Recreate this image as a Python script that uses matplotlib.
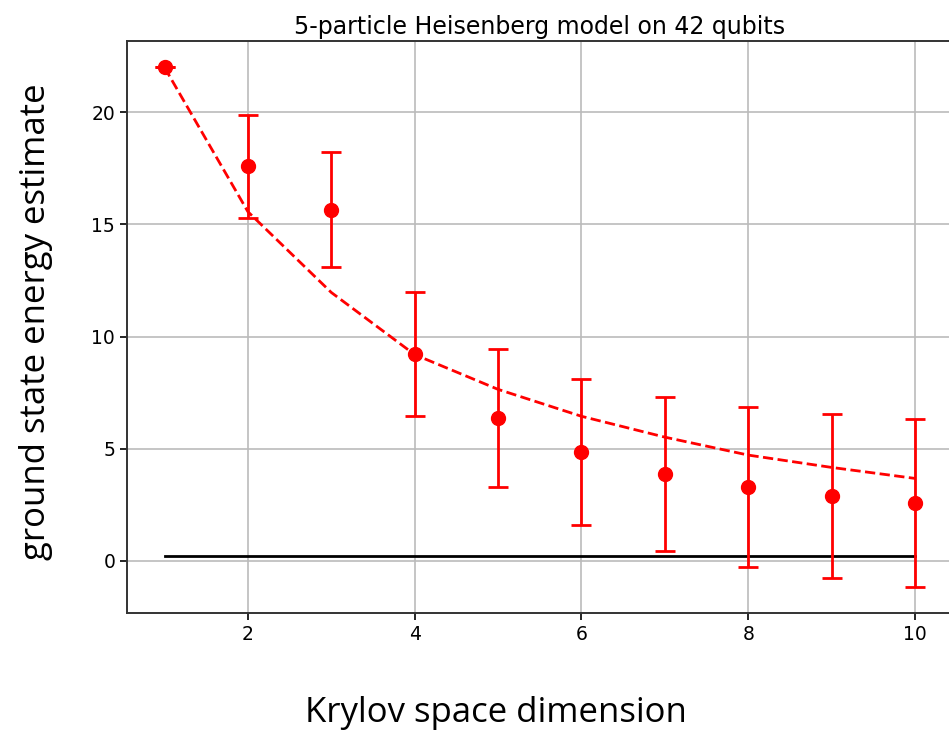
import matplotlib
matplotlib.use("Agg")
import matplotlib.pyplot as plt

x = [1, 2, 3, 4, 5, 6, 7, 8, 9, 10]
estimates = [22.0, 17.6, 15.66, 9.21, 6.36, 4.85, 3.87, 3.28, 2.89, 2.59]
errors = [0.0, 2.3, 2.56, 2.76, 3.07, 3.25, 3.44, 3.57, 3.67, 3.74]
ideal = [22.0, 15.57, 11.97, 9.2, 7.65, 6.45, 5.52, 4.72, 4.17, 3.68]
exact_energy = 0.21

fig = plt.figure(figsize=(9.49, 7.34), dpi=100)
ax = fig.add_axes([127/949, 1-613/734, (970-127)/949, (613-41)/734])

ax.errorbar(x, estimates, yerr=errors, fmt='o', color='red', markersize=10,
            elinewidth=2, capsize=7, capthick=2, zorder=3)
ax.plot(x, ideal, '--', color='red', linewidth=2, zorder=3)
ax.plot([x[0], x[-1]], [exact_energy, exact_energy], '-', color='black', linewidth=2, zorder=2)

ax.set_xlim(0.55, 10.66)
ax.set_ylim(-2.32, 23.18)
ax.set_xticks([2, 4, 6, 8, 10])
ax.set_yticks([0, 5, 10, 15, 20])
ax.grid(True, color='#bbbbbb', linewidth=1.2)
ax.set_axisbelow(True)
ax.tick_params(labelsize=13.5, width=1.2, length=5)
for s in ax.spines.values():
    s.set_linewidth(1.4)
    s.set_color('#333333')

ax.set_title('5-particle Heisenberg model on 42 qubits', fontsize=17, pad=5,
             x=(540-127)/(970-127))
fig.text(496/949, 1-713/734, 'Krylov space dimension', fontsize=25, family='Open Sans',
         ha='center', va='center')
fig.text(36/949, 1-322/734, 'ground state energy estimate', fontsize=25, family='Open Sans',
         ha='center', va='center', rotation=90)

fig.savefig('out.png', dpi=100)
